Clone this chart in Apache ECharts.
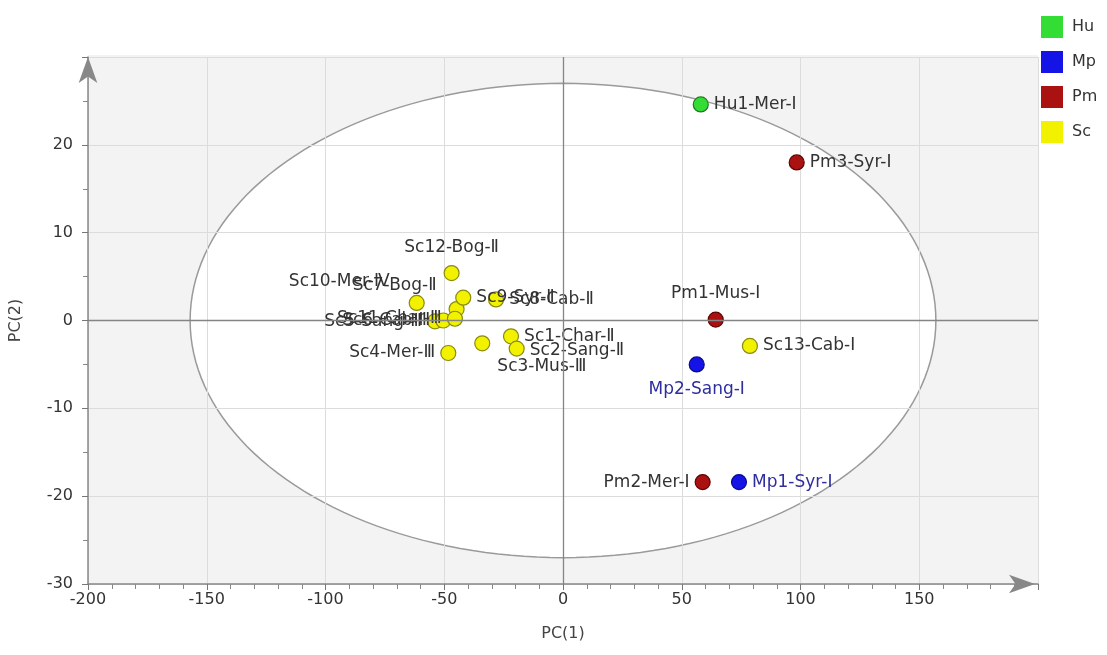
<!DOCTYPE html>
<html>
<head>
<meta charset="utf-8">
<title>PCA score plot</title>
<script src="https://cdn.jsdelivr.net/npm/echarts@6/dist/echarts.min.js"></script>
<style>
  html, body { margin: 0; padding: 0; background: #fff; }
  #chart { width: 1107px; height: 655px; }
</style>
</head>
<body>
<div id="chart"></div>
<script>
// score values: PC(1), PC(2)
const groups = ['Hu', 'Mp', 'Pm', 'Sc'];

const huLabels = ['Hu1-Mer-Ⅰ'];
const huPC1 = [58.0];
const huPC2 = [24.6];

const mpLabels = ['Mp1-Syr-Ⅰ', 'Mp2-Sang-Ⅰ'];
const mpPC1 = [74.1, 56.3];
const mpPC2 = [-18.4, -5.0];

const pmLabels = ['Pm1-Mus-Ⅰ', 'Pm2-Mer-Ⅰ', 'Pm3-Syr-Ⅰ'];
const pmPC1 = [64.3, 58.8, 98.4];
const pmPC2 = [0.1, -18.4, 18.0];

const scLabels = ['Sc1-Char-Ⅱ', 'Sc2-Sang-Ⅱ', 'Sc3-Mus-Ⅲ', 'Sc4-Mer-Ⅲ', 'Sc5-Sang-Ⅲ',
  'Sc6-Cab-Ⅲ', 'Sc7-Bog-Ⅱ', 'Sc8-Cab-Ⅱ', 'Sc9-Syr-Ⅱ', 'Sc10-Mer-Ⅳ',
  'Sc11-Char-Ⅲ', 'Sc12-Bog-Ⅱ', 'Sc13-Cab-Ⅰ'];
const scPC1 = [-21.9, -19.5, -34.0, -48.3, -53.9, -50.4, -44.8, -28.2, -42.0, -61.6, -45.5, -46.9, 78.7];
const scPC2 = [-1.8, -3.2, -2.6, -3.7, -0.1, 0.0, 1.3, 2.4, 2.6, 2.0, 0.2, 5.4, -2.9];

// Hotelling T2 ellipse semi-axes (PC1, PC2)
const ellipseAxes = [157, 27];

// axis ranges
const xRange = [-200, 200];
const yRange = [-30, 30];

// label placement (style only)
const labelPlace = {
  'Pm1-Mus-Ⅰ': { position: 'top', distance: 9 },
  'Mp2-Sang-Ⅰ': { position: 'bottom', distance: 9 },
  'Pm2-Mer-Ⅰ': { position: 'left' },
  'Sc3-Mus-Ⅲ': { position: 'right', offset: [2, 23] },
  'Sc4-Mer-Ⅲ': { position: 'left' },
  'Sc5-Sang-Ⅲ': { position: 'left' },
  'Sc6-Cab-Ⅲ': { position: 'left' },
  'Sc11-Char-Ⅲ': { position: 'left' },
  'Sc7-Bog-Ⅱ': { position: 'left', offset: [-7, -24] },
  'Sc10-Mer-Ⅳ': { position: 'left', offset: [-14, -21] },
  'Sc12-Bog-Ⅱ': { position: 'top', distance: 9 },
  'Sc2-Sang-Ⅱ': { position: 'right', offset: [0, 2] }
};

const colors = {
  Hu: { fill: '#33dd33', border: '#1f7a1f', legend: '#33ee33', text: '#333' },
  Mp: { fill: '#1414e6', border: '#0a0a8a', legend: '#0000ee', text: '#2e2e9e' },
  Pm: { fill: '#aa1111', border: '#5c0505', legend: '#aa0000', text: '#333' },
  Sc: { fill: '#f2f200', border: '#8a8a10', legend: '#eeee00', text: '#333' }
};

const font = 'DejaVu Sans';

function makePoints(labels, xs, ys) {
  return labels.map((name, i) => {
    const place = labelPlace[name] || { position: 'right' };
    return {
      name: name,
      value: [xs[i], ys[i]],
      label: Object.assign({ distance: 5 }, place)
    };
  });
}

function scatter(group, points) {
  const c = colors[group];
  return {
    name: group,
    type: 'scatter',
    symbolSize: 15,
    z: 3,
    itemStyle: { color: c.fill, borderColor: c.border, borderWidth: 1.2, opacity: 1 },
    label: {
      show: true,
      formatter: '{b}',
      color: c.text,
      fontFamily: font,
      fontSize: 17
    },
    data: points
  };
}

const chart = echarts.init(document.getElementById('chart'));

const option = {
  backgroundColor: '#fff',
  animation: false,
  color: groups.map(g => colors[g].legend),
  grid: { left: 88, right: 69, top: 57, bottom: 71 },
  legend: {
    data: groups,
    orient: 'vertical',
    left: 1041,
    top: 16,
    padding: 0,
    icon: 'rect',
    itemWidth: 22,
    itemHeight: 22,
    itemGap: 13,
    itemStyle: { borderWidth: 0 },
    textStyle: { color: '#333', fontFamily: font, fontSize: 16, padding: [0, 0, 0, 4] }
  },
  xAxis: {
    type: 'value',
    min: xRange[0],
    max: xRange[1],
    interval: 50,
    name: 'PC(1)',
    nameLocation: 'middle',
    nameGap: 42,
    nameTextStyle: { color: '#444', fontFamily: font, fontSize: 16 },
    axisLine: {
      onZero: false,
      symbol: ['none', 'arrow'],
      symbolSize: [14, 26],
      symbolOffset: [0, -3],
      lineStyle: { color: '#888', width: 1.5 }
    },
    axisTick: { length: 6, lineStyle: { color: '#777' } },
    minorTick: { show: true, splitNumber: 5, length: 5, lineStyle: { color: '#888' } },
    axisLabel: { color: '#333', fontFamily: font, fontSize: 16, margin: 8, showMaxLabel: false },
    splitLine: { show: true, lineStyle: { color: '#dcdcdc', width: 1 } }
  },
  yAxis: {
    type: 'value',
    min: yRange[0],
    max: yRange[1],
    interval: 10,
    name: 'PC(2)',
    nameLocation: 'middle',
    nameGap: 64,
    nameRotate: 90,
    nameTextStyle: { color: '#444', fontFamily: font, fontSize: 16 },
    axisLine: {
      onZero: false,
      symbol: ['none', 'arrow'],
      symbolSize: [14, 26],
      symbolOffset: [0, 0],
      lineStyle: { color: '#888', width: 1.5 }
    },
    axisTick: { length: 6, lineStyle: { color: '#777' } },
    minorTick: { show: true, splitNumber: 2, length: 5, lineStyle: { color: '#888' } },
    axisLabel: { color: '#333', fontFamily: font, fontSize: 16, margin: 15, showMaxLabel: false },
    splitLine: { show: true, lineStyle: { color: '#dcdcdc', width: 1 } }
  },
  series: [
    {
      // plot background: gray area, white T2 ellipse
      type: 'custom',
      name: 'ellipse',
      silent: true,
      z: -1,
      data: [[0, 0]],
      renderItem: function (params, api) {
        const cs = params.coordSys;
        const pts = [];
        for (let k = 0; k <= 180; k++) {
          const t = (k / 180) * Math.PI * 2;
          pts.push(api.coord([ellipseAxes[0] * Math.cos(t), ellipseAxes[1] * Math.sin(t)]));
        }
        return {
          type: 'group',
          children: [
            {
              type: 'rect',
              shape: { x: cs.x, y: cs.y - 2, width: cs.width, height: cs.height + 2 },
              style: { fill: '#f3f3f3' }
            },
            {
              type: 'polygon',
              shape: { points: pts },
              style: { fill: '#ffffff', stroke: '#9a9a9a', lineWidth: 1.5 }
            }
          ]
        };
      }
    },
    {
      // zero lines through the origin
      type: 'scatter',
      name: 'zero',
      silent: true,
      z: 1,
      data: [],
      markLine: {
        silent: true,
        symbol: 'none',
        label: { show: false },
        lineStyle: { color: '#858585', width: 1.3, type: 'solid' },
        data: [{ xAxis: 0 }, { yAxis: 0 }]
      }
    },
    scatter('Hu', makePoints(huLabels, huPC1, huPC2)),
    scatter('Mp', makePoints(mpLabels, mpPC1, mpPC2)),
    scatter('Pm', makePoints(pmLabels, pmPC1, pmPC2)),
    scatter('Sc', makePoints(scLabels, scPC1, scPC2))
  ]
};

chart.setOption(option);
</script>
</body>
</html>
